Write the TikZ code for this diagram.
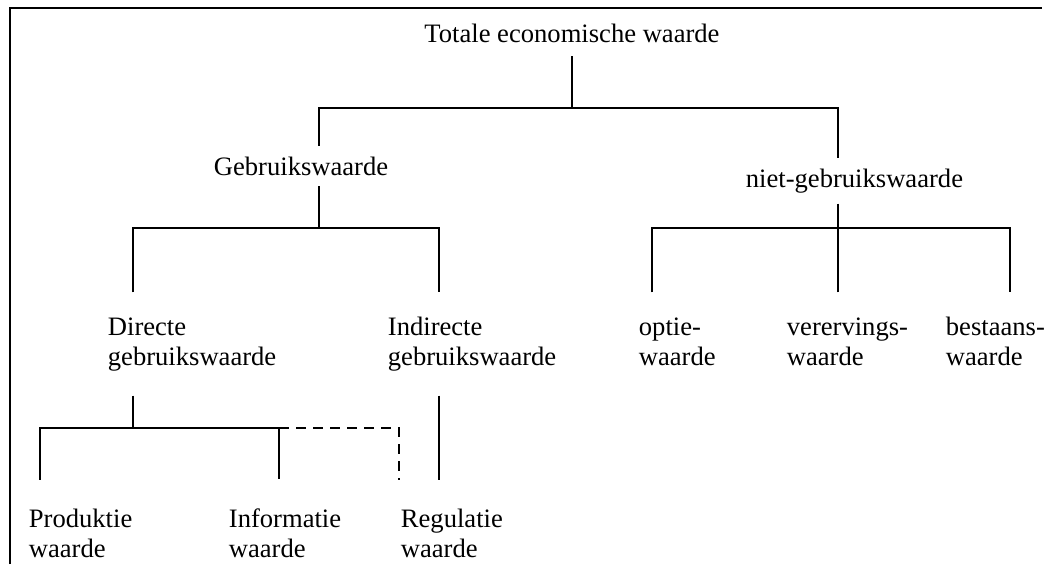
\documentclass[tikz,border=0pt]{standalone}
\usepackage{fontspec}
\setmainfont{Liberation Serif}
\usetikzlibrary{positioning}

\tikzset{
  lbl/.style={inner xsep=0pt, font=\fontsize{13.3}{15}\selectfont},
  kop/.style={lbl, inner ysep=6.5pt, anchor=base},
  tussen/.style={lbl, inner ysep=5pt, anchor=base west},
  tak/.style={lbl, inner ysep=12pt, align=left, anchor=base west},
  blad/.style={lbl, inner ysep=14pt, align=left, anchor=base west},
  stippel/.style={dash pattern=on 5pt off 3.5pt},
  rand/.style={line width=1.3pt}
}

\begin{document}
\begin{tikzpicture}[x=0.5pt,y=-0.5pt,line width=0.9pt]

        \useasboundingbox (0,0) rectangle (1046,564);
        \draw[rand] (10,564) -- (10,8) -- (1042,8);

        % labels
        \node[kop] (tew) at (572,42) {Totale economische waarde};
        \node[tussen] (gw) at (213,175) {Gebruikswaarde};
        \node[tussen] (ngw) at (745,187) {niet-gebruikswaarde};

        \node[tak] (dg) at (107,365) {Directe\\gebruikswaarde};
        \node[tak] (ig) at (387,365) {Indirecte\\gebruikswaarde};
        \node[tak] (ow) at (638,365) {optie-\\waarde};
        \node[tak] (vw) at (786,365) {verervings-\\waarde};
        \node[tak] (bw) at (945,365) {bestaans-\\waarde};

        \node[blad] (pw) at (28,557) {Produktie\\waarde};
        \node[blad] (iw) at (228,557) {Informatie\\waarde};
        \node[blad] (rw) at (400,557) {Regulatie\\waarde};

        % knooppunten
        \coordinate (tw) at (572,108);
        \coordinate (gwx) at (319,108);
        \coordinate (ngwx) at (838,108);
        \coordinate (gwb) at (319,228);
        \coordinate (dgb) at (133,228);
        \coordinate (igb) at (439,228);
        \coordinate (ngwb) at (838,228);
        \coordinate (owb) at (652,228);
        \coordinate (bwb) at (1010,228);
        \coordinate (dgx) at (133,428);
        \coordinate (pwb) at (40,428);
        \coordinate (iwb) at (279,428);
        \coordinate (rwb) at (399,428);

        % lijnen
        \draw (tew.south -| tw) -- (tw);
        \draw (gw.north -| gwx) -- (gwx) -- (ngwx) -- (ngw.north -| ngwx);

        \draw (gw.south -| gwb) -- (gwb);
        \draw (dg.north -| dgb) -- (dgb) -- (igb) -- (ig.north -| igb);

        \draw (ngw.south -| ngwb) -- (ngwb);
        \draw (ow.north -| owb) -- (owb) -- (bwb) -- (bw.north -| bwb);
        \draw (vw.north -| ngwb) -- (ngwb);

        \draw (dg.south -| dgx) -- (dgx);
        \draw (pw.north -| pwb) -- (pwb) -- (iwb) -- (iw.north -| iwb);
        \draw[stippel] (iwb) -- (rwb) -- (rw.north -| rwb);
        \draw (ig.south -| igb) -- (rw.north -| igb);

\end{tikzpicture}
\end{document}
